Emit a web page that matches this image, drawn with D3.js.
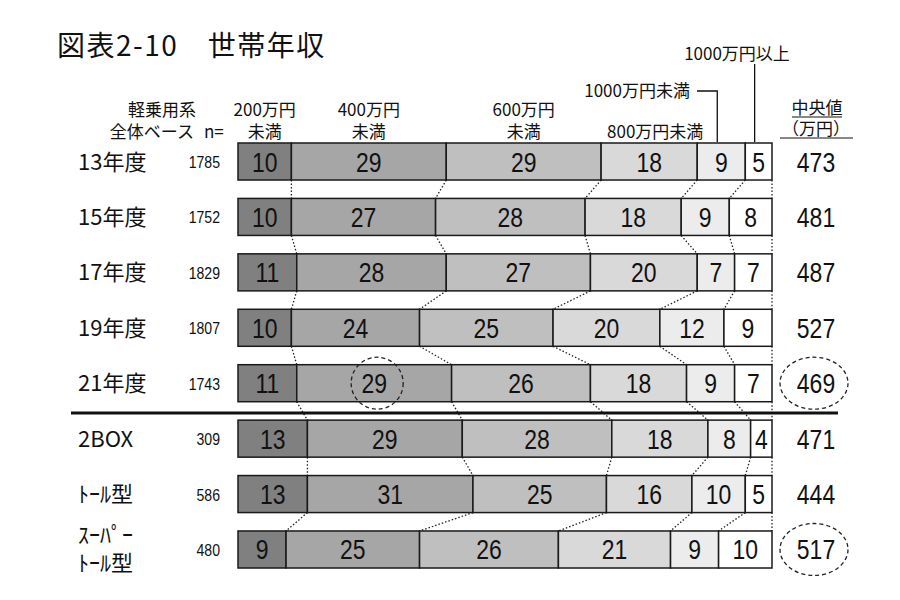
<!doctype html>
<html>
<head>
<meta charset="utf-8">
<title>世帯年収</title>
<script src="https://cdnjs.cloudflare.com/ajax/libs/d3/7.8.5/d3.min.js"></script>
<style>
  body { margin: 0; background: #fff; }
  text { font-family: "Noto Sans CJK JP", sans-serif; fill: #111; }
  .num { font-family: "Liberation Sans", Arial, sans-serif; }
</style>
</head>
<body>
<div id="chart"></div>
<script>
// rows (categories), sample sizes, medians
const rows = ["13年度", "15年度", "17年度", "19年度", "21年度", "2BOX", "ﾄｰﾙ型", "ｽｰﾊﾟｰ\nﾄｰﾙ型"];
const sizes = [1785, 1752, 1829, 1807, 1743, 309, 586, 480];
const medians = [473, 481, 487, 527, 469, 471, 444, 517];

// share of each income band (%), one array per band
const under200 = [10, 10, 11, 10, 11, 13, 13, 9];
const under400 = [29, 27, 28, 24, 29, 29, 31, 25];
const under600 = [29, 28, 27, 25, 26, 28, 25, 26];
const under800 = [18, 18, 20, 20, 18, 18, 16, 21];
const under1000 = [9, 9, 7, 12, 9, 8, 10, 9];
const over1000 = [5, 8, 7, 9, 7, 4, 5, 10];
const bands = [under200, under400, under600, under800, under1000, over1000];
const bandColors = ["#808080", "#a6a6a6", "#bfbfbf", "#d9d9d9", "#ececec", "#ffffff"];

// header labels for the first four bands
const bandHeaders = [["200万円", "未満"], ["400万円", "未満"], ["600万円", "未満"], ["", "800万円未満"]];

// highlighted items: [row, band] for a segment, rows for medians
const circledSegment = [4, 1];
const circledMedians = [4, 7];

const svg = d3.select("#chart").append("svg")
  .attr("width", 900).attr("height", 600);

const x = d3.scaleLinear().domain([0, 100]).range([238, 772]);
const y = d3.scaleBand().domain(rows).range([143, 568]).paddingInner(0.332).paddingOuter(0);
const bh = y.bandwidth();
const narrow = 0.82; // squeeze numbers like a narrow gothic face

// cumulative stacks
const stacked = rows.map((r, i) => {
  let acc = 0;
  return bands.map((b, k) => {
    const s = { row: r, i, k, x0: acc, x1: acc + b[i], v: b[i] };
    acc += b[i];
    return s;
  });
});

// title
svg.append("text")
  .attr("x", 57).attr("y", 56)
  .style("font-size", "28px").style("letter-spacing", "1.5px")
  .text("図表2-10　世帯年収");

// dotted connectors between rows
const conn = [];
for (let i = 0; i < rows.length - 1; i++) {
  for (let k = 0; k < bands.length; k++) {
    conn.push({ a: stacked[i][k].x1, b: stacked[i + 1][k].x1, y0: y(rows[i]) + bh, y1: y(rows[i + 1]) });
  }
}
svg.append("g").selectAll("line").data(conn).join("line")
  .attr("x1", d => x(d.a)).attr("x2", d => x(d.b))
  .attr("y1", d => d.y0).attr("y2", d => d.y1)
  .attr("stroke", "#222").attr("stroke-width", 1.3)
  .attr("stroke-dasharray", "1.5,2");

// separator between years and body types
const sepY = (y(rows[4]) + bh + y(rows[5])) / 2 + 2;
svg.append("line")
  .attr("x1", 71).attr("x2", 838)
  .attr("y1", sepY).attr("y2", sepY)
  .attr("stroke", "#111").attr("stroke-width", 3);

// bars
const seg = svg.append("g").selectAll("g").data(stacked.flat()).join("g");
seg.append("rect")
  .attr("x", d => x(d.x0)).attr("y", d => y(d.row))
  .attr("width", d => x(d.x1) - x(d.x0)).attr("height", bh)
  .attr("fill", d => bandColors[d.k])
  .attr("stroke", "#1a1a1a").attr("stroke-width", 1.5);
seg.append("text").attr("class", "num")
  .attr("transform", d => `translate(${(x(d.x0) + x(d.x1)) / 2},${y(d.row) + bh / 2 + 10}) scale(${narrow},1)`)
  .attr("text-anchor", "middle")
  .style("font-size", "28px")
  .text(d => d.v);

// circled segment
const cs = stacked[circledSegment[0]][circledSegment[1]];
svg.append("circle")
  .attr("cx", (x(cs.x0) + x(cs.x1)) / 2 + 3)
  .attr("cy", y(cs.row) + bh / 2)
  .attr("r", 26)
  .attr("fill", "none").attr("stroke", "#222").attr("stroke-width", 1.3)
  .attr("stroke-dasharray", "4,3");

// row labels
svg.append("g").selectAll("text").data(rows).join("text")
  .style("font-size", "22px")
  .each(function (d) {
    const lines = d.split("\n");
    const t = d3.select(this);
    const cy = y(d) + bh / 2;
    lines.forEach((l, j) => {
      t.append("tspan")
        .attr("x", 78)
        .attr("y", cy + 8 + (j - (lines.length - 1) / 2) * 28)
        .text(l);
    });
  });

// n sizes
svg.append("g").selectAll("text").data(sizes).join("text").attr("class", "num")
  .attr("transform", (d, i) => `translate(220,${y(rows[i]) + bh / 2 + 6.5}) scale(0.88,1)`)
  .attr("text-anchor", "end")
  .style("font-size", "16px")
  .text(d => d);

// medians
svg.append("g").selectAll("text").data(medians).join("text").attr("class", "num")
  .attr("transform", (d, i) => `translate(816,${y(rows[i]) + bh / 2 + 10}) scale(${narrow},1)`)
  .attr("text-anchor", "middle")
  .style("font-size", "28px")
  .text(d => d);
svg.append("g").selectAll("ellipse").data(circledMedians).join("ellipse")
  .attr("cx", 814).attr("cy", i => y(rows[i]) + bh / 2)
  .attr("rx", 34).attr("ry", 26)
  .attr("fill", "none").attr("stroke", "#222").attr("stroke-width", 1.3)
  .attr("stroke-dasharray", "4,3");

// headers
const hdr = svg.append("g").style("font-size", "17px");
hdr.append("text").attr("x", 162).attr("y", 116).attr("text-anchor", "middle").text("軽乗用系");
hdr.append("text").attr("x", 194).attr("y", 138).attr("text-anchor", "end").text("全体ベース");
hdr.append("text").attr("x", 204).attr("y", 138).text("n=");
bandHeaders.forEach((h, k) => {
  const s = stacked[0][k];
  const cx = (x(s.x0) + x(s.x1)) / 2 + (k === 3 ? 6 : 0);
  hdr.append("text").attr("x", cx).attr("y", 116).attr("text-anchor", "middle").text(h[0]);
  hdr.append("text").attr("x", cx).attr("y", 138).attr("text-anchor", "middle").text(h[1]);
});

// callouts for the two narrow bands
const s5 = stacked[0][4], s6 = stacked[0][5];
const top0 = y(rows[0]);
const c5 = (x(s5.x0) + x(s5.x1)) / 2 - 4;
const c6 = (x(s6.x0) + x(s6.x1)) / 2 - 4;
hdr.append("text").attr("x", 690).attr("y", 97).attr("text-anchor", "end").text("1000万円未満");
svg.append("path")
  .attr("d", `M697,91H${c5}V${top0 - 1}`)
  .attr("fill", "none").attr("stroke", "#111").attr("stroke-width", 1.3);
hdr.append("text").attr("x", 737).attr("y", 60).attr("text-anchor", "middle").text("1000万円以上");
svg.append("line")
  .attr("x1", c6).attr("x2", c6).attr("y1", 64).attr("y2", top0 - 1)
  .attr("stroke", "#111").attr("stroke-width", 1.3);

// median header
hdr.append("text").attr("x", 817).attr("y", 114).attr("text-anchor", "middle").text("中央値");
hdr.append("text").attr("x", 816).attr("y", 135).attr("text-anchor", "middle").text("（万円）");
svg.append("line").attr("x1", 792).attr("x2", 842).attr("y1", 117).attr("y2", 117)
  .attr("stroke", "#111").attr("stroke-width", 1);
svg.append("line").attr("x1", 780).attr("x2", 853).attr("y1", 138).attr("y2", 138)
  .attr("stroke", "#111").attr("stroke-width", 1);
</script>
</body>
</html>
